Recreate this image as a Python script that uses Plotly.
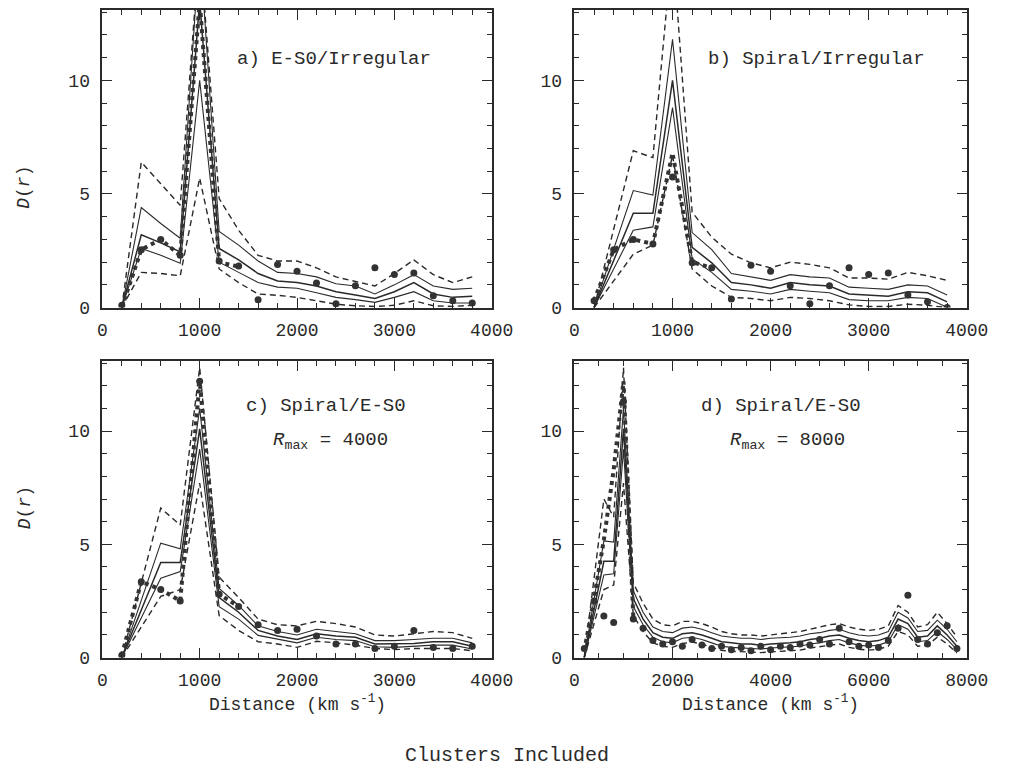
import plotly.graph_objects as go

# ---------------- data ----------------
x_ac = [200, 400, 600, 800, 1000, 1200, 1400, 1600, 1800, 2000, 2200, 2400,
        2600, 2800, 3000, 3200, 3400, 3600, 3800]

# panel a) E-S0/Irregular
a_ud = [0, 6.4, 5.45, 4.5, 16, 4.8, 3.4, 2.3, 2.05, 2.05, 1.75, 1.35, 1.15, 0.95, 1.5, 2.1, 1.45, 1.1, 1.35]
a_us = [0, 4.4, 3.7, 3.05, 16, 3.35, 2.75, 2.05, 1.55, 1.5, 1.35, 1.05, 0.95, 0.6, 1.0, 1.45, 0.95, 0.8, 0.85]
a_ms = [0, 3.2, 2.85, 2.45, 13.5, 2.6, 2.1, 1.5, 1.17, 1.1, 0.95, 0.7, 0.55, 0.4, 0.7, 1.1, 0.6, 0.45, 0.5]
a_ls = [0, 2.6, 2.3, 1.95, 10.0, 2.0, 1.55, 1.1, 0.9, 0.85, 0.65, 0.45, 0.35, 0.23, 0.45, 0.7, 0.3, 0.2, 0.2]
a_ld = [0, 1.55, 1.5, 1.4, 5.7, 1.7, 1.1, 0.6, 0.54, 0.45, 0.3, 0.15, 0.08, 0.05, 0.1, 0.3, 0.08, 0.05, 0.1]
a_pts = [0.1, 2.55, 3.0, 2.3, 13.5, 2.05, 1.83, 0.35, 1.9, 1.6, 1.08, 0.17, 0.96, 1.75, 1.46, 1.52, 0.52, 0.3, 0.2]
a_curve_x = [200, 400, 600, 800, 1000, 1200, 1400]
a_curve = [0.0, 2.55, 3.0, 2.3, 13.5, 2.0, 1.8]

# panel b) Spiral/Irregular
b_ud = [0, 3.5, 6.9, 6.6, 16, 4.2, 3.1, 2.35, 1.97, 1.75, 2.0, 1.9, 1.75, 1.3, 1.3, 1.25, 1.55, 1.4, 1.2]
b_us = [0, 2.6, 5.15, 4.95, 11.8, 3.3, 2.55, 1.5, 1.35, 1.2, 1.45, 1.35, 1.3, 0.9, 0.85, 0.8, 1.0, 0.95, 0.55]
b_ms = [0, 2.1, 4.15, 4.15, 10.0, 2.65, 1.97, 1.1, 1.0, 0.85, 1.1, 1.0, 0.95, 0.6, 0.55, 0.5, 0.7, 0.65, 0.25]
b_ls = [0, 1.7, 3.4, 3.55, 8.8, 2.15, 1.55, 0.8, 0.72, 0.6, 0.8, 0.72, 0.65, 0.35, 0.3, 0.3, 0.45, 0.4, 0.02]
b_ld = [0, 1.2, 2.35, 2.75, 6.7, 1.7, 0.95, 0.45, 0.4, 0.3, 0.45, 0.4, 0.3, 0.12, 0.05, 0.05, 0.15, 0.1, 0.0]
b_pts = [0.3, 2.55, 3.0, 2.8, 5.75, 1.97, 1.75, 0.38, 1.86, 1.6, 0.96, 0.17, 0.96, 1.75, 1.46, 1.52, 0.55, 0.26, 0.0]
b_curve_x = [200, 400, 600, 800, 1000, 1200, 1400]
b_curve = [0.3, 2.55, 3.0, 2.8, 6.8, 2.0, 1.75]

# panel c) Spiral/E-S0, Rmax = 4000
c_ud = [0, 3.3, 6.6, 5.85, 12.8, 3.55, 2.65, 1.7, 1.45, 1.4, 1.6, 1.5, 1.35, 1.0, 0.95, 1.05, 1.15, 1.1, 0.85]
c_us = [0, 2.5, 5.05, 4.8, 11.0, 3.05, 2.3, 1.4, 1.15, 1.0, 1.25, 1.15, 1.05, 0.75, 0.75, 0.8, 0.85, 0.85, 0.65]
c_ms = [0, 2.1, 4.2, 4.2, 10.1, 2.65, 2.0, 1.2, 0.95, 0.8, 1.05, 0.95, 0.9, 0.6, 0.6, 0.62, 0.7, 0.7, 0.5]
c_ls = [0, 1.75, 3.5, 3.8, 9.2, 2.25, 1.7, 0.98, 0.8, 0.65, 0.9, 0.8, 0.75, 0.48, 0.45, 0.5, 0.55, 0.55, 0.38]
c_ld = [0, 1.35, 2.7, 3.0, 7.7, 1.85, 1.2, 0.7, 0.6, 0.45, 0.72, 0.65, 0.55, 0.4, 0.35, 0.4, 0.4, 0.4, 0.3]
c_pts = [0.1, 3.35, 3.0, 2.5, 12.2, 2.8, 2.25, 1.45, 1.2, 1.25, 0.95, 0.6, 0.6, 0.4, 0.5, 1.2, 0.45, 0.4, 0.5]
c_curve_x = [200, 400, 600, 800, 1000, 1200, 1400]
c_curve = [0.1, 3.35, 3.0, 2.5, 12.2, 2.8, 2.25]

# panel d) Spiral/E-S0, Rmax = 8000
x_d = [200, 400, 600, 800, 1000, 1200, 1400, 1600, 1800, 2000, 2200, 2400, 2600,
       2800, 3000, 3200, 3400, 3600, 3800, 4000, 4200, 4400, 4600, 4800, 5000,
       5200, 5400, 5600, 5800, 6000, 6200, 6400, 6600, 6800, 7000, 7200, 7400,
       7600, 7800]
d_ud = [0, 3.5, 7.0, 6.2, 12.8, 3.3, 2.4, 1.7, 1.45, 1.4, 1.6, 1.6, 1.5, 1.35, 1.15, 1.05,
        1.0, 1.0, 0.95, 1.0, 1.05, 1.1, 1.15, 1.25, 1.35, 1.45, 1.5, 1.35, 1.25, 1.2,
        1.25, 1.4, 2.3, 2.0, 1.35, 1.45, 2.0, 1.5, 0.9]
d_us = [0, 2.6, 5.15, 5.1, 11.0, 2.95, 2.0, 1.35, 1.15, 1.1, 1.3, 1.35, 1.25, 1.1, 0.95, 0.9,
        0.85, 0.85, 0.8, 0.85, 0.87, 0.9, 0.95, 1.05, 1.1, 1.2, 1.25, 1.1, 1.0, 0.95,
        1.0, 1.15, 2.0, 1.75, 1.15, 1.2, 1.65, 1.25, 0.7]
d_ms = [0, 2.1, 4.25, 4.25, 10.1, 2.6, 1.7, 1.1, 0.9, 0.85, 1.05, 1.1, 1.0, 0.85, 0.7, 0.65,
        0.6, 0.6, 0.55, 0.6, 0.62, 0.65, 0.7, 0.8, 0.85, 0.95, 1.0, 0.85, 0.75, 0.7,
        0.75, 0.9, 1.7, 1.5, 0.9, 0.95, 1.4, 1.0, 0.5]
d_ls = [0, 1.8, 3.65, 3.7, 9.2, 2.25, 1.45, 0.9, 0.7, 0.65, 0.85, 0.9, 0.8, 0.65, 0.5, 0.45,
        0.42, 0.42, 0.38, 0.42, 0.44, 0.46, 0.5, 0.6, 0.65, 0.75, 0.8, 0.65, 0.55, 0.5,
        0.55, 0.7, 1.45, 1.25, 0.7, 0.75, 1.15, 0.8, 0.35]
d_ld = [0, 1.5, 3.0, 3.2, 7.7, 1.85, 1.15, 0.65, 0.5, 0.45, 0.62, 0.68, 0.6, 0.45, 0.32, 0.28,
        0.25, 0.25, 0.22, 0.25, 0.27, 0.3, 0.33, 0.42, 0.47, 0.55, 0.6, 0.45, 0.37, 0.33,
        0.37, 0.5, 1.15, 1.0, 0.5, 0.55, 0.9, 0.6, 0.2]
d_pts = [0.4, 2.5, 1.84, 1.55, 11.3, 1.7, 1.3, 0.75, 0.6, 0.7, 0.5, 0.8, 0.55, 0.4, 0.5, 0.35,
         0.45, 0.3, 0.5, 0.35, 0.5, 0.45, 0.6, 0.55, 0.8, 0.6, 1.3, 0.7, 0.5, 0.55,
         0.45, 0.75, 1.3, 2.75, 0.8, 0.6, 1.1, 1.4, 0.4]
d_curve_x = [200, 400, 600, 800, 1000, 1200]
d_curve = [0.3, 2.6, 5.2, 8.3, 12.2, 1.8]

panel_titles = ["a) E-S0/Irregular", "b) Spiral/Irregular",
                "c) Spiral/E-S0", "d) Spiral/E-S0"]
rmax_labels = ["<i>R</i><sub>max</sub> = 4000", "<i>R</i><sub>max</sub> = 8000"]
x_title = "Distance (km s<sup>-1</sup>)"
y_title = "<i>D</i>(<i>r</i>)"
bottom_title = "Clusters Included"

# ---------------- figure ----------------
W, H = 1016, 779
INK = "#2a2a2a"
MONO = "Liberation Mono, Courier New, monospace"

fig = go.Figure()

def px_x(p):
    return p / W

def px_y(p):
    return 1 - p / H

panels = [
    dict(x="x", y="y", xs=x_ac, lines=(a_ud, a_us, a_ms, a_ls, a_ld), pts=a_pts,
         cx=a_curve_x, cy=a_curve),
    dict(x="x2", y="y2", xs=x_ac, lines=(b_ud, b_us, b_ms, b_ls, b_ld), pts=b_pts,
         cx=b_curve_x, cy=b_curve),
    dict(x="x3", y="y3", xs=x_ac, lines=(c_ud, c_us, c_ms, c_ls, c_ld), pts=c_pts,
         cx=c_curve_x, cy=c_curve),
    dict(x="x4", y="y4", xs=x_d, lines=(d_ud, d_us, d_ms, d_ls, d_ld), pts=d_pts,
         cx=d_curve_x, cy=d_curve),
]

styles = [
    dict(dash="6px,4px", width=1.4),
    dict(dash="solid", width=1.1),
    dict(dash="solid", width=1.5),
    dict(dash="solid", width=1.1),
    dict(dash="6px,4px", width=1.4),
]

for p in panels:
    for ys, st in zip(p["lines"], styles):
        fig.add_trace(go.Scatter(x=p["xs"], y=ys, xaxis=p["x"], yaxis=p["y"],
                                 mode="lines", line=dict(color=INK, **st),
                                 showlegend=False, hoverinfo="skip"))
    fig.add_trace(go.Scatter(x=p["cx"], y=p["cy"], xaxis=p["x"], yaxis=p["y"],
                             mode="lines", line=dict(color="#333", dash="dot", width=4),
                             showlegend=False, hoverinfo="skip"))
    fig.add_trace(go.Scatter(x=p["xs"], y=p["pts"], xaxis=p["x"], yaxis=p["y"],
                             mode="markers", marker=dict(color="#333", size=7),
                             showlegend=False, hoverinfo="skip"))

tickfont = dict(family=MONO, size=18, color=INK)

def xaxis_cfg(dom, dtick, minor_dtick, anchor, rng):
    return dict(domain=dom, anchor=anchor, range=rng, dtick=dtick, tick0=0,
                showline=True, linecolor=INK, linewidth=1.6, mirror="allticks",
                ticks="inside", ticklen=10, tickwidth=1.3, tickcolor=INK,
                minor=dict(dtick=minor_dtick, tick0=0, ticks="inside", ticklen=5,
                           tickwidth=1.1, tickcolor=INK, showgrid=False),
                showgrid=False, zeroline=False, tickfont=tickfont,
                ticklabelstandoff=5)

def yaxis_cfg(dom, anchor):
    return dict(domain=dom, anchor=anchor, range=[0, 13.1], dtick=5, tick0=0,
                showline=True, linecolor=INK, linewidth=1.6, mirror="allticks",
                ticks="inside", ticklen=10, tickwidth=1.3, tickcolor=INK,
                minor=dict(dtick=1, tick0=0, ticks="inside", ticklen=5,
                           tickwidth=1.1, tickcolor=INK, showgrid=False),
                showgrid=False, zeroline=False, tickfont=tickfont,
                ticklabelstandoff=7)

xl_dom = [px_x(100), px_x(500)]
xr_dom = [px_x(585), px_x(988)]
yt_dom = [px_y(312), px_y(10)]
yb_dom = [px_y(667), px_y(366)]

fig.update_layout(
    width=W, height=H,
    margin=dict(l=0, r=0, t=0, b=0),
    paper_bgcolor="white", plot_bgcolor="white",
    showlegend=False,
    xaxis=xaxis_cfg(xl_dom, 1000, 200, "y", [0, 4000]),
    yaxis=yaxis_cfg(yt_dom, "x"),
    xaxis2=xaxis_cfg(xr_dom, 1000, 200, "y2", [0, 4000]),
    yaxis2=yaxis_cfg(yt_dom, "x2"),
    xaxis3=xaxis_cfg(xl_dom, 1000, 200, "y3", [0, 4000]),
    yaxis3=yaxis_cfg(yb_dom, "x3"),
    xaxis4=xaxis_cfg(xr_dom, 2000, 500, "y4", [0, 8000]),
    yaxis4=yaxis_cfg(yb_dom, "x4"),
)

ann = [
    dict(text=panel_titles[0], x=px_x(338), y=px_y(60)),
    dict(text=panel_titles[1], x=px_x(834), y=px_y(60)),
    dict(text=panel_titles[2], x=px_x(330), y=px_y(412)),
    dict(text=rmax_labels[0], x=px_x(334), y=px_y(447)),
    dict(text=panel_titles[3], x=px_x(797), y=px_y(412)),
    dict(text=rmax_labels[1], x=px_x(804), y=px_y(447)),
    dict(text=x_title, x=px_x(300), y=px_y(714), size=18),
    dict(text=x_title, x=px_x(786), y=px_y(714), size=18),
    dict(text=bottom_title, x=px_x(516), y=px_y(766), size=20),
    dict(text=y_title, x=px_x(20), y=px_y(190), textangle=-90, size=18),
    dict(text=y_title, x=px_x(20), y=px_y(515), textangle=-90, size=18),
]
for a in ann:
    size = a.pop("size", 19)
    fig.add_annotation(xref="paper", yref="paper", showarrow=False,
                       xanchor="center", yanchor="middle",
                       font=dict(family=MONO, size=size, color=INK), **a)

fig.write_html("out.html")
